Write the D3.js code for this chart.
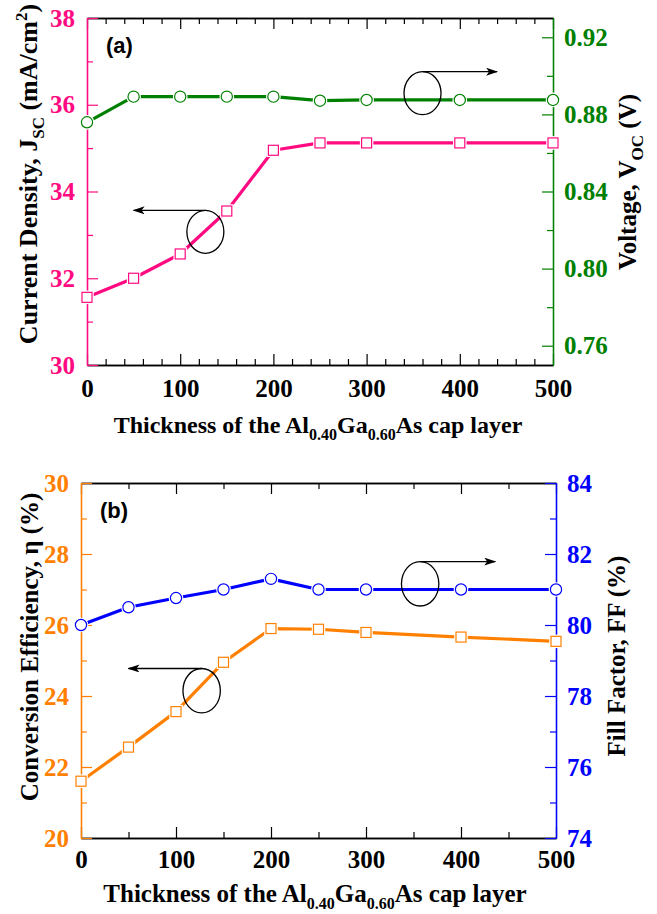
<!DOCTYPE html>
<html><head><meta charset="utf-8">
<script src="https://cdn.jsdelivr.net/npm/d3@7"></script>
<style>
html,body{margin:0;padding:0;background:#fff;}
svg{display:block;}
</style></head>
<body>
<script>
// ---------- data ----------
const thickness = [0, 50, 100, 150, 200, 250, 300, 400, 500];
const jsc = [31.56, 32.0, 32.56, 33.55, 34.95, 35.12, 35.12, 35.12, 35.12];
const voc = [0.8759, 0.8892, 0.8892, 0.8892, 0.8892, 0.8871, 0.8875, 0.8875, 0.8875];
const eff = [21.6, 22.56, 23.56, 24.95, 25.9, 25.88, 25.79, 25.66, 25.54];
const ff = [80.0, 80.5, 80.76, 81.0, 81.3, 81.0, 81.0, 81.0, 81.0];

const xTicks = [0, 100, 200, 300, 400, 500];
const jscTicks = [30, 32, 34, 36, 38];
const vocTicks = [0.76, 0.80, 0.84, 0.88, 0.92];
const effTicks = [20, 22, 24, 26, 28, 30];
const ffTicks = [74, 76, 78, 80, 82, 84];

// annotation anchors in data units: ellipse centre, arrow tip x
const annotA = [{cx: 127, cy: 33.07, axis: "left", tip: 50}, {cx: 360, cy: 0.891, axis: "right", tip: 440}];
const annotB = [{cx: 127, cy: 24.15, axis: "left", tip: 50}, {cx: 357, cy: 81.16, axis: "right", tip: 436}];

const W = 657, H = 914;
const serif = "'Liberation Serif','Times New Roman',serif";
const TICK_FS = 25;
const svg = d3.select("body").append("svg").attr("width", W).attr("height", H);

svg.append("defs").append("marker")
  .attr("id", "arrow").attr("viewBox", "0 0 12 8").attr("refX", 11).attr("refY", 4)
  .attr("markerWidth", 12).attr("markerHeight", 8).attr("markerUnits", "userSpaceOnUse")
  .attr("orient", "auto")
  .append("path").attr("d", "M0,0 L12,4 L0,8 L3,4 Z").attr("fill", "#000");

function panel(o) {
  const g = svg.append("g");
  const x = d3.scaleLinear().domain([0, 500]).range([o.left, o.right]);
  const yL = d3.scaleLinear().domain(o.lDomain).range([o.bottom, o.top]);
  const yR = d3.scaleLinear().domain(o.rDomain).range([o.bottom, o.top]);

  function styleAxis(sel, color) {
    sel.attr("font-family", serif).attr("font-size", TICK_FS).attr("font-weight", "bold");
    sel.selectAll(".domain").attr("stroke", color).attr("stroke-width", 1.3);
    sel.selectAll(".tick line").attr("stroke", color).attr("stroke-width", 1.2);
    sel.selectAll(".tick text").attr("fill", color).style("font-family", serif)
      .style("font-weight", "bold").style("font-size", TICK_FS + "px");
  }
  // x axes bottom & top
  const xb = g.append("g").attr("transform", `translate(0,${o.bottom})`)
    .call(d3.axisBottom(x).tickValues(o.xMinor).tickSize(-6).tickSizeOuter(0).tickFormat(""));
  styleAxis(xb, "#000");
  const xbM = g.append("g").attr("transform", `translate(0,${o.bottom})`)
    .call(d3.axisBottom(x).tickValues(xTicks).tickSize(-11).tickSizeOuter(0).tickPadding(o.xPad).tickFormat(d3.format("d")));
  styleAxis(xbM, "#000");
  xbM.selectAll(".tick text").attr("dy", 0);
  const xt = g.append("g").attr("transform", `translate(0,${o.top})`)
    .call(d3.axisTop(x).tickValues(o.xMinor).tickSize(-6).tickSizeOuter(0).tickFormat(""));
  styleAxis(xt, "#000");
  const xtM = g.append("g").attr("transform", `translate(0,${o.top})`)
    .call(d3.axisTop(x).tickValues(xTicks).tickSize(-11).tickSizeOuter(0).tickFormat(""));
  styleAxis(xtM, "#000");

  // left axis
  const la = g.append("g").attr("transform", `translate(${o.left},0)`)
    .call(d3.axisLeft(yL).tickValues(o.lMinor).tickSize(-6).tickSizeOuter(0).tickFormat(""));
  styleAxis(la, o.lColor);
  const laM = g.append("g").attr("transform", `translate(${o.left},0)`)
    .call(d3.axisLeft(yL).tickValues(o.lTicks).tickSize(-11).tickSizeOuter(0).tickPadding(12).tickFormat(d3.format("d")));
  styleAxis(laM, o.lColor);
  // right axis
  const ra = g.append("g").attr("transform", `translate(${o.right},0)`)
    .call(d3.axisRight(yR).tickValues(o.rMinor).tickSize(-6).tickSizeOuter(0).tickFormat(""));
  styleAxis(ra, o.rColor);
  const raM = g.append("g").attr("transform", `translate(${o.right},0)`)
    .call(d3.axisRight(yR).tickValues(o.rTicks).tickSize(-11).tickSizeOuter(0).tickPadding(11).tickFormat(o.rFormat));
  styleAxis(raM, o.rColor);

  // series
  function series(vals, scale, color, shape, size) {
    const pts = thickness.map((t, i) => [x(t), scale(vals[i])]);
    g.append("path").attr("d", d3.line()(pts)).attr("fill", "none")
      .attr("stroke", color).attr("stroke-width", 3.2).attr("stroke-linejoin", "round");
    pts.forEach(p => {
      if (shape === "square") {
        g.append("rect").attr("x", p[0] - size).attr("y", p[1] - size)
          .attr("width", 2 * size).attr("height", 2 * size)
          .attr("fill", "#fff").attr("stroke", "#fff").attr("stroke-width", 3.5);
        g.append("rect").attr("x", p[0] - size).attr("y", p[1] - size)
          .attr("width", 2 * size).attr("height", 2 * size)
          .attr("fill", "#fff").attr("stroke", color).attr("stroke-width", 1.2);
      } else {
        g.append("circle").attr("cx", p[0]).attr("cy", p[1]).attr("r", size)
          .attr("fill", "#fff").attr("stroke", "#fff").attr("stroke-width", 3.5);
        g.append("circle").attr("cx", p[0]).attr("cy", p[1]).attr("r", size)
          .attr("fill", "#fff").attr("stroke", color).attr("stroke-width", 1.2);
      }
    });
  }
  series(o.rVals, yR, o.rColor, "circle", 5.6);
  series(o.lVals, yL, o.lColor, "square", 5);

  // annotations
  o.annot.forEach(a => {
    const sc = a.axis === "left" ? yL : yR;
    const cx = x(a.cx), cy = sc(a.cy);
    g.append("ellipse").attr("cx", cx).attr("cy", cy).attr("rx", o.erx).attr("ry", o.ery)
      .attr("fill", "none").attr("stroke", "#000").attr("stroke-width", 1.3);
    g.append("line").attr("x1", cx).attr("y1", cy - o.ery).attr("x2", x(a.tip)).attr("y2", cy - o.ery)
      .attr("stroke", "#000").attr("stroke-width", 1.3).attr("marker-end", "url(#arrow)");
  });

  // panel label
  g.append("text").attr("x", o.left + 19).attr("y", o.top + 35).text(o.label)
    .attr("font-family", "'Liberation Sans',Arial,sans-serif").attr("font-weight", "bold")
    .attr("font-size", 22).attr("fill", "#000");

  // x title
  const xtit = g.append("text").attr("x", o.xTitleX).attr("y", o.xTitleY).attr("text-anchor", "middle")
    .attr("font-family", serif).attr("font-weight", "bold").attr("font-size", o.xTitleFs).attr("fill", "#000");
  xtit.append("tspan").text("Thickness of the Al");
  xtit.append("tspan").attr("dy", 7).attr("font-size", 16).text("0.40");
  xtit.append("tspan").attr("dy", -7).text("Ga");
  xtit.append("tspan").attr("dy", 7).attr("font-size", 16).text("0.60");
  xtit.append("tspan").attr("dy", -7).text("As cap layer");

  // y titles
  const lt = g.append("text").attr("transform", `translate(${o.lTitleX},${o.lTitleY}) rotate(-90)`)
    .attr("text-anchor", "middle").attr("font-family", serif).attr("font-weight", "bold")
    .attr("font-size", o.lTitleFs).attr("fill", "#000");
  o.lTitle(lt);
  const rt = g.append("text").attr("transform", `translate(${o.rTitleX},${o.rTitleY}) rotate(-90)`)
    .attr("text-anchor", "middle").attr("font-family", serif).attr("font-weight", "bold")
    .attr("font-size", 25).attr("fill", "#000");
  o.rTitle(rt);
}

panel({
  left: 87, right: 553, top: 18, bottom: 365,
  lDomain: [30, 38], rDomain: [0.75, 0.93],
  lTicks: jscTicks, lMinor: d3.range(31, 38, 2),
  rTicks: vocTicks, rMinor: [0.78, 0.82, 0.86, 0.90],
  xMinor: d3.range(20, 500, 20).filter(v => v % 100 !== 0),
  xPad: 32,
  lColor: "#FF0A80", rColor: "#008000",
  lVals: jsc, rVals: voc,
  rFormat: d3.format(".2f"),
  annot: annotA, erx: 18.5, ery: 21.5,
  label: "(a)",
  xTitleX: 318, xTitleY: 433, xTitleFs: 24,
  lTitleX: 37, lTitleY: 174, lTitleFs: 26,
  rTitleX: 636, rTitleY: 182,
  lTitle: t => {
    t.append("tspan").text("Current Density, J");
    t.append("tspan").attr("dy", 7).attr("font-size", 17).text("SC");
    t.append("tspan").attr("dy", -7).text(" (mA/cm");
    t.append("tspan").attr("dy", -10).attr("font-size", 17).text("2");
    t.append("tspan").attr("dy", 10).text(")");
  },
  rTitle: t => {
    t.append("tspan").text("Voltage, V");
    t.append("tspan").attr("dy", 7).attr("font-size", 17).text("OC");
    t.append("tspan").attr("dy", -7).text(" (V)");
  }
});

panel({
  left: 81, right: 556, top: 483, bottom: 838,
  lDomain: [20, 30], rDomain: [74, 84],
  lTicks: effTicks, lMinor: d3.range(21, 30, 2),
  rTicks: ffTicks, rMinor: d3.range(75, 84, 2),
  xMinor: d3.range(50, 500, 100),
  xPad: 30,
  lColor: "#FF8000", rColor: "#0000FF",
  lVals: eff, rVals: ff,
  rFormat: d3.format("d"),
  annot: annotB, erx: 18.7, ery: 22.2,
  label: "(b)",
  xTitleX: 315, xTitleY: 902, xTitleFs: 25,
  lTitleX: 38, lTitleY: 647, lTitleFs: 25,
  rTitleX: 625, rTitleY: 656,
  lTitle: t => {
    t.append("tspan").text("Conversion Efficiency, η  (%)");
  },
  rTitle: t => {
    t.append("tspan").text("Fill Factor, FF (%)");
  }
});
</script>
</body></html>
